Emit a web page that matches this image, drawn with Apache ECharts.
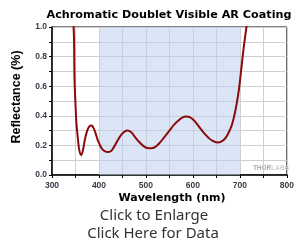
<!DOCTYPE html>
<html><head><meta charset="utf-8">
<script src="https://cdn.jsdelivr.net/npm/echarts@6/dist/echarts.min.js"></script>
<style>html,body{margin:0;padding:0;background:#fff}#c{width:297px;height:243px}</style>
</head><body><div id="c"></div>
<script>
const wavelength = [330,346,348,350,352,355,358,362,366,370,375,380,384,388,393,398,404,410,418,425,432,440,448,455,461,468,476,485,495,503,511,520,530,540,550,560,570,578,586,594,602,612,622,632,642,652,660,668,675,682,688,693,698,703,708,713,716,720];
const reflectance = [1.6,1.0,0.64,0.48,0.35,0.25,0.17,0.135,0.17,0.24,0.30,0.33,0.335,0.32,0.28,0.23,0.19,0.165,0.155,0.16,0.19,0.235,0.275,0.295,0.30,0.29,0.26,0.225,0.195,0.182,0.18,0.19,0.22,0.26,0.30,0.34,0.37,0.39,0.395,0.39,0.37,0.33,0.29,0.255,0.23,0.22,0.225,0.245,0.28,0.33,0.40,0.48,0.58,0.72,0.86,0.98,1.05,1.2];
const bandStart = 400, bandEnd = 700;
const titleText = 'Achromatic Doublet Visible AR Coating';
const xName = 'Wavelength (nm)';
const yName = 'Reflectance (%)';
const link1 = 'Click to Enlarge';
const link2 = 'Click Here for Data';

const chart = echarts.init(document.getElementById('c'));
chart.setOption({
  animation: false,
  grid: {left: 52, top: 27, right: 4, bottom: 68, show: true, borderColor: '#000', borderWidth: 1, backgroundColor: 'transparent'},
  xAxis: {type: 'value', min: 300, max: 800, interval: 50,
    axisLine: {lineStyle: {color: '#000', width: 1.5}},
    axisTick: {show: true, length: 3, lineStyle: {color: '#000'}},
    splitLine: {show: true, lineStyle: {color: '#cfcfcf', width: 1}},
    axisLabel: {margin: 6, fontSize: 8.5, fontWeight: 'bold', color: '#3a3a4a', fontFamily: 'Liberation Sans',
      formatter: v => v % 100 === 0 ? String(v) : ''}},
  yAxis: {type: 'value', min: 0, max: 1, interval: 0.1,
    axisLine: {show: true, lineStyle: {color: '#000', width: 1.5}},
    axisTick: {show: true, length: 3, lineStyle: {color: '#000'}},
    splitLine: {show: true, lineStyle: {color: '#cfcfcf', width: 1}},
    axisLabel: {margin: 5, fontSize: 8.5, fontWeight: 'bold', color: '#3a3a4a', fontFamily: 'Liberation Sans',
      formatter: v => { const r = Math.round(v*10); return r % 2 === 0 ? (r/10).toFixed(1) : ''; }}},
  series: [{type: 'line', data: wavelength.map((w,i)=>[w, reflectance[i]]), smooth: 0.4, symbol: 'none', clip: true,
    lineStyle: {color: '#8b0a0a', width: 2},
    markArea: {silent: true, itemStyle: {color: 'rgba(190,208,238,0.55)'}, data: [[{xAxis: bandStart}, {xAxis: bandEnd}]]}}],
  graphic: [
    {type: 'text', x: 169, y: 15.5, style: {text: titleText, font: 'bold 11.2px "DejaVu Sans"', fill: '#000', align: 'center', verticalAlign: 'middle'}},
    {type: 'text', x: 17, y: 97, rotation: Math.PI/2, style: {text: yName, font: 'bold 12.5px "Liberation Sans"', fill: '#000', align: 'center', verticalAlign: 'middle'}},
    {type: 'text', x: 172, y: 198.5, style: {text: xName, font: 'bold 11px "DejaVu Sans"', fill: '#000', align: 'center', verticalAlign: 'middle'}},
    {type: 'text', x: 154, y: 216, style: {text: link1, font: '15px "Noto Sans"', fill: '#333', align: 'center', verticalAlign: 'middle'}},
    {type: 'text', x: 153, y: 234, style: {text: link2, font: '15px "Noto Sans"', fill: '#333', align: 'center', verticalAlign: 'middle'}},
    {type: 'text', x: 289, y: 168, style: {text: '{a|THOR}{b|LABS}', align: 'right', verticalAlign: 'middle',
      rich: {a: {font: 'bold 6.5px "Liberation Sans"', fill: '#aaaaaa'}, b: {font: 'bold 6.5px "Liberation Sans"', fill: '#d0d0d0'}}}}
  ]
});
</script></body></html>
